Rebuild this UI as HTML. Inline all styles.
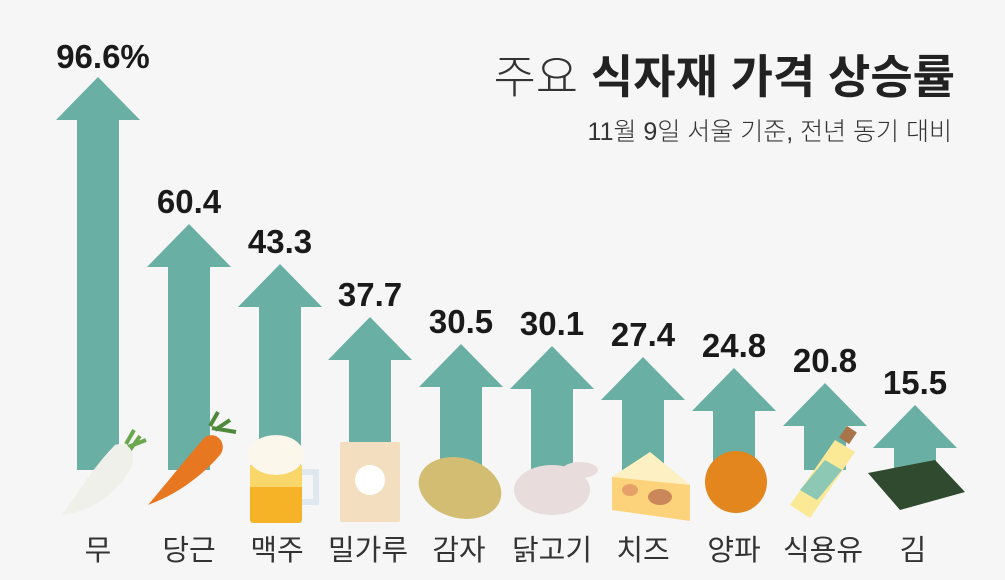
<!DOCTYPE html>
<html><head><meta charset="utf-8"><style>
html,body{margin:0;padding:0;background:#f6f6f6;}
svg{display:block;}
text{font-family:"Liberation Sans","Noto Sans CJK KR",sans-serif;}
</style></head><body>
<svg width="1005" height="580" viewBox="0 0 1005 580" xmlns="http://www.w3.org/2000/svg">
<rect width="1005" height="580" fill="#f6f6f6"/>
<text x="955" y="93" text-anchor="end" font-size="46" fill="#222"><tspan font-weight="300" fill="#333">주요 </tspan><tspan font-weight="bold">식자재 가격 상승률</tspan></text>
<text x="952" y="140" text-anchor="end" font-size="25" fill="#333" font-weight="300">11월 9일 서울 기준, 전년 동기 대비</text>
<g fill="#6aafa4">
<path d="M98,77 L140,120 L119,120 L119,470 L77,470 L77,120 L56,120 Z"/>
<path d="M189,224 L231,267 L210,267 L210,470 L168,470 L168,267 L147,267 Z"/>
<path d="M280,264 L322,307 L301,307 L301,470 L259,470 L259,307 L238,307 Z"/>
<path d="M370,317 L412,360 L391,360 L391,470 L349,470 L349,360 L328,360 Z"/>
<path d="M461,344 L503,387 L482,387 L482,470 L440,470 L440,387 L419,387 Z"/>
<path d="M552,346 L594,389 L573,389 L573,470 L531,470 L531,389 L510,389 Z"/>
<path d="M643,357 L685,400 L664,400 L664,470 L622,470 L622,400 L601,400 Z"/>
<path d="M734,368 L776,411 L755,411 L755,470 L713,470 L713,411 L692,411 Z"/>
<path d="M825,383 L867,426 L846,426 L846,470 L804,470 L804,426 L783,426 Z"/>
<path d="M915,405 L957,448 L936,448 L936,470 L894,470 L894,448 L873,448 Z"/>
</g>
<g font-size="33" font-weight="bold" fill="#1a1a1a" text-anchor="middle">
<text x="103" y="68">96.6%</text>
<text x="189" y="213">60.4</text>
<text x="280" y="253">43.3</text>
<text x="370" y="306">37.7</text>
<text x="461" y="333">30.5</text>
<text x="552" y="335">30.1</text>
<text x="643" y="346">27.4</text>
<text x="734" y="357">24.8</text>
<text x="825" y="372">20.8</text>
<text x="915" y="394">15.5</text>
</g>
<!-- icons -->
<g>
<!-- radish -->
<path d="M130,450 L140,436 M128,447 L146,440 M126,444 L134,430" stroke="#6aa84f" stroke-width="4"/>
<path d="M62,515 C80,490 95,465 115,445 C130,440 138,455 130,470 C115,495 90,512 62,515 Z" fill="#f0f0eb"/>
<!-- carrot -->
<path d="M215,430 L230,420 M212,428 L236,432 M210,426 L218,412" stroke="#4f8a3c" stroke-width="4"/>
<path d="M148,505 C165,485 185,460 205,437 C218,430 228,445 220,455 C200,478 175,495 148,505 Z" fill="#e87722"/>
<!-- beer -->
<rect x="250" y="465" width="52" height="58" rx="3" fill="#f7b328"/>
<rect x="250" y="465" width="52" height="22" fill="#f9d66a"/>
<path d="M302,472 h14 v30 h-14" stroke="#dfe8ee" stroke-width="6" fill="none"/>
<ellipse cx="276" cy="455" rx="28" ry="20" fill="#fbf7ea"/>
<!-- flour -->
<rect x="340" y="442" width="60" height="80" rx="2" fill="#f3dec0"/>
<circle cx="370" cy="480" r="15" fill="#fff"/>
<!-- potato -->
<ellipse cx="460" cy="488" rx="42" ry="30" fill="#d3bd72" transform="rotate(15 460 488)"/>
<!-- chicken -->
<ellipse cx="552" cy="490" rx="38" ry="25" fill="#e8dcdc"/>
<ellipse cx="580" cy="470" rx="18" ry="8" fill="#e8dcdc"/>
<!-- cheese -->
<path d="M612,477 L650,452 L690,485 L690,521 L612,510 Z" fill="#fcd37a"/>
<path d="M612,477 L650,452 L690,485 Z" fill="#fdf1c4"/>
<ellipse cx="630" cy="490" rx="8" ry="6" fill="#e8a06a"/>
<ellipse cx="660" cy="497" rx="12" ry="8" fill="#c9875a"/>
<!-- onion -->
<circle cx="736" cy="482" r="31" fill="#e3861d"/>
<!-- oil -->
<path d="M790,505 L835,440 L855,452 L810,518 Z" fill="#fbe995"/>
<path d="M800,490 L825,460 L842,470 L817,500 Z" fill="#8cc8b3"/>
<rect x="842" y="428" width="12" height="14" fill="#a8744a" transform="rotate(34 848 435)"/>
<!-- seaweed -->
<path d="M868,473 L935,460 L965,492 L900,510 Z" fill="#2f4a2e"/>
</g>
<g font-size="29" fill="#333" text-anchor="middle">
<text x="98" y="560">무</text>
<text x="189" y="560">당근</text>
<text x="277" y="560">맥주</text>
<text x="368" y="560">밀가루</text>
<text x="459" y="560">감자</text>
<text x="552" y="560">닭고기</text>
<text x="643" y="560">치즈</text>
<text x="734" y="560">양파</text>
<text x="823" y="560">식용유</text>
<text x="913" y="560">김</text>
</g>
</svg>
</body></html>
